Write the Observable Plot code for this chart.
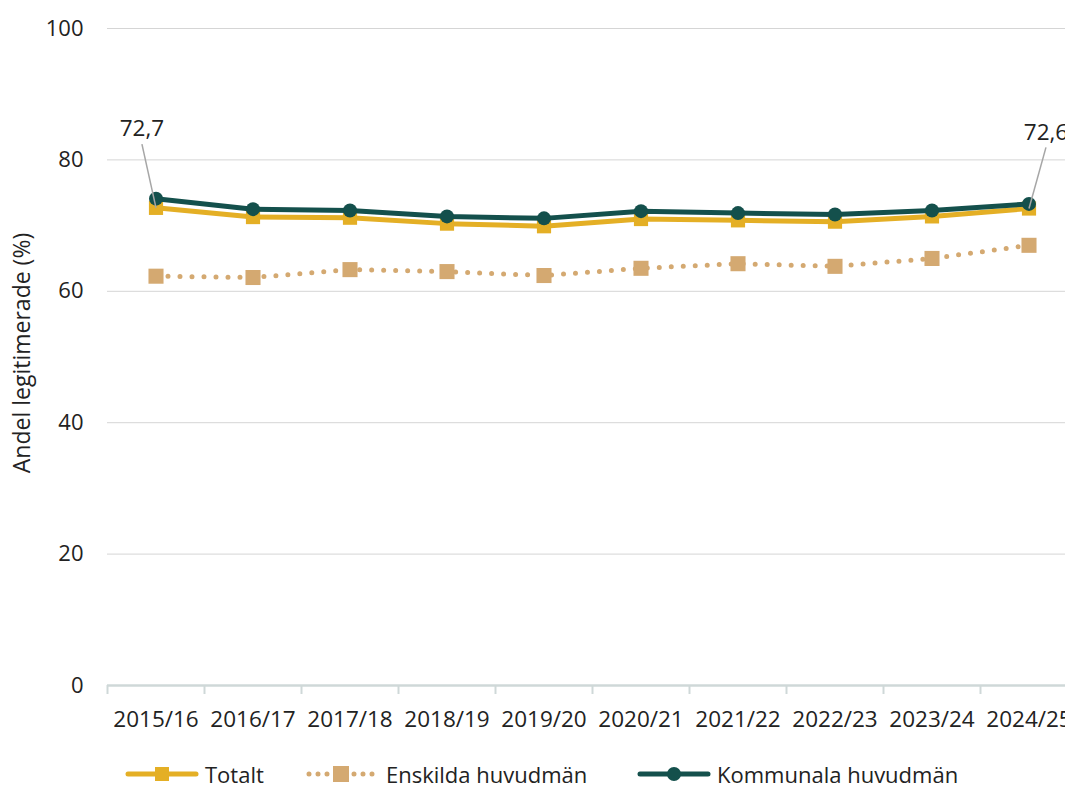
<!DOCTYPE html>
<html>
<head>
<meta charset="utf-8">
<script src="https://cdn.jsdelivr.net/npm/d3@7"></script>
<script src="https://cdn.jsdelivr.net/npm/@observablehq/plot@0.6"></script>
<style>
  html, body { margin: 0; padding: 0; background: #fff; overflow: hidden; width: 1065px; height: 785px; }
  body { font-family: "Open Sans", "Noto Sans", sans-serif; color: #222; position: relative; }
  #chart svg { display: block; }
  #legend { position: absolute; left: 0; top: 764px; height: 20px; width: 1065px; font-size: 22px; }
  .item { position: absolute; top: 0; display: flex; align-items: center; height: 20px; line-height: 20px; white-space: nowrap; }
  .item svg { display: block; margin-right: 6px; }
</style>
</head>
<body>
<div id="chart"></div>
<div id="legend"></div>
<script>
const categories = ["2015/16","2016/17","2017/18","2018/19","2019/20","2020/21","2021/22","2022/23","2023/24","2024/25"];
const totalt    = [72.7, 71.3, 71.2, 70.3, 69.9, 71.0, 70.8, 70.6, 71.4, 72.6];
const enskilda  = [62.3, 62.1, 63.3, 63.0, 62.4, 63.5, 64.2, 63.8, 65.0, 67.0];
const kommunala = [74.1, 72.5, 72.3, 71.4, 71.1, 72.2, 71.9, 71.7, 72.3, 73.3];
const yTicks = [0, 20, 40, 60, 80, 100];
const seriesNames = ["Totalt", "Enskilda huvudmän", "Kommunala huvudmän"];
const colors = {"Totalt": "#E4AF25", "Enskilda huvudmän": "#D4A971", "Kommunala huvudmän": "#14504C"};
const annotations = [
  {i: 0, value: 72.7, label: "72,7", lx: -0.145, ly: 82.4},
  {i: 9, value: 72.6, label: "72,6", lx: 9.175, ly: 81.9}
];

const idx = categories.map((c, i) => i);
const rows = s => idx.map(i => ({i, v: s[i]}));
const tot = rows(totalt), ens = rows(enskilda), kom = rows(kommunala);
const bounds = idx.map(i => i - 0.5);

const font = "'Open Sans', 'Noto Sans', sans-serif";

const chart = Plot.plot({
  width: 1077,
  height: 750,
  marginLeft: 107,
  marginRight: 0,
  marginTop: 28,
  marginBottom: 65,
  style: {fontFamily: font, fontSize: "22px", color: "#222", background: "white", overflow: "visible", maxWidth: "none"},
  x: {type: "linear", domain: [-0.5, categories.length - 0.5]},
  y: {domain: [0, 100]},
  marks: [
    Plot.gridY(yTicks.filter(t => t > 0), {stroke: "#d5d5d5", strokeOpacity: 1, strokeWidth: 1}),
    Plot.axisY(yTicks, {tickSize: 0, tickPadding: 24, label: null, fontSize: 22, fill: "#222"}),
    Plot.axisX(bounds, {tickSize: 9, tickFormat: () => "", stroke: "#cfd8d8", strokeWidth: 2, label: null}),
    Plot.axisX(idx, {tickSize: 0, tickPadding: 26, tickFormat: i => categories[i], label: null, fontSize: 22.5, fill: "#222"}),
    Plot.ruleY([0], {stroke: "#cfd8d8", strokeWidth: 2.5}),
    Plot.text(["Andel legitimerade (%)"], {frameAnchor: "left", textAnchor: "middle", rotate: -90, dx: -85, dy: -4, fontSize: 23, fill: "#222"}),
    // Enskilda
    Plot.line(ens, {x: "i", y: "v", stroke: colors["Enskilda huvudmän"], strokeWidth: 5, strokeDasharray: "0 12", strokeLinecap: "round"}),
    Plot.dot(ens, {x: "i", y: "v", symbol: "square", r: 8.5, fill: colors["Enskilda huvudmän"], stroke: "none"}),
    // Totalt
    Plot.line(tot, {x: "i", y: "v", stroke: colors["Totalt"], strokeWidth: 5}),
    Plot.dot(tot, {x: "i", y: "v", symbol: "square", r: 8, fill: colors["Totalt"], stroke: "none"}),
    // Kommunala
    Plot.line(kom, {x: "i", y: "v", stroke: colors["Kommunala huvudmän"], strokeWidth: 5}),
    Plot.dot(kom, {x: "i", y: "v", r: 7, fill: colors["Kommunala huvudmän"], stroke: "none"}),
    // annotations
    Plot.link(annotations, {x1: "i", y1: "value", x2: "lx", y2: "ly", stroke: "#a6a6a6", strokeWidth: 1.5}),
    Plot.text(annotations, {x: "lx", y: "ly", text: "label", dy: -15, fontSize: 22.5, fill: "#222"})
  ]
});
document.getElementById("chart").appendChild(chart);

// Legend
const legend = document.getElementById("legend");
const legendX = {"Totalt": 125, "Enskilda huvudmän": 306, "Kommunala huvudmän": 637};
for (const name of seriesNames) {
  const item = document.createElement("div");
  item.className = "item";
  item.style.left = legendX[name] + "px";
  const c = colors[name];
  let sw;
  if (name === "Totalt") {
    sw = `<svg width="74" height="20"><line x1="3" y1="10" x2="71" y2="10" stroke="${c}" stroke-width="5" stroke-linecap="round"/><rect x="30" y="3" width="14" height="14" fill="${c}"/></svg>`;
  } else if (name === "Enskilda huvudmän") {
    sw = `<svg width="74" height="20"><line x1="3" y1="10" x2="68" y2="10" stroke="${c}" stroke-width="5" stroke-dasharray="0 9" stroke-linecap="round"/><rect x="27" y="2" width="16" height="16" fill="${c}"/></svg>`;
  } else {
    sw = `<svg width="74" height="20"><line x1="3" y1="10" x2="71" y2="10" stroke="${c}" stroke-width="5" stroke-linecap="round"/><circle cx="37" cy="10" r="7" fill="${c}"/></svg>`;
  }
  item.innerHTML = sw + `<span>${name}</span>`;
  legend.appendChild(item);
}
</script>
</body>
</html>
